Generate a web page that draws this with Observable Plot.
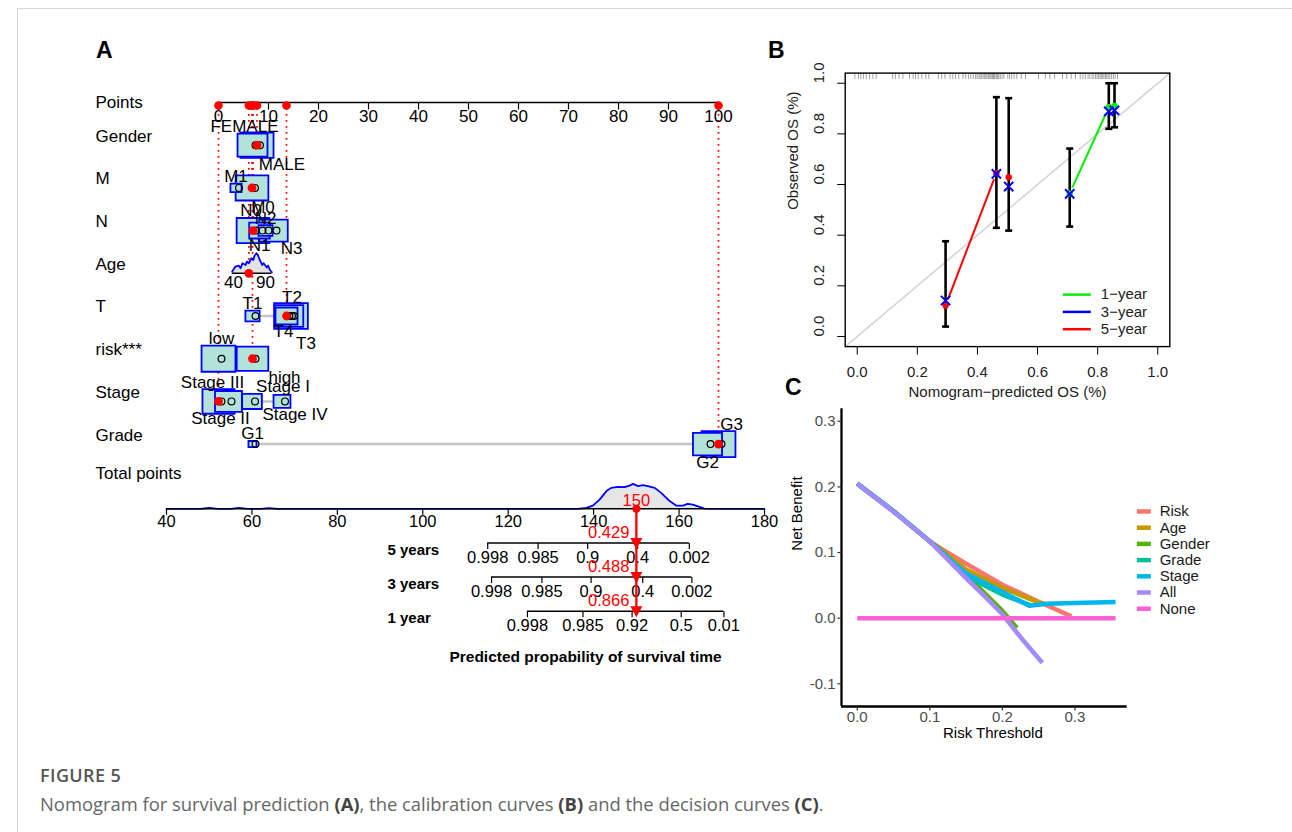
<!DOCTYPE html>
<html>
<head>
<meta charset="utf-8">
<script src="https://cdn.jsdelivr.net/npm/d3@7"></script>
<script src="https://cdn.jsdelivr.net/npm/@observablehq/plot@0.6"></script>
<style>
  body { margin: 0; background: #fff; }
  #fig { position: relative; width: 1292px; height: 832px; overflow: hidden; background: #fff;
         font-family: "Liberation Sans", Arial, Helvetica, sans-serif; }
  .frame-top { position: absolute; left: 17px; top: 8px; width: 1275px; height: 0; border-top: 1px solid #d6d6d6; }
  .frame-left { position: absolute; left: 17px; top: 8px; width: 0; height: 824px; border-left: 1px solid #d6d6d6; }
  .letter { position: absolute; font-weight: bold; font-size: 23px; line-height: 23px; color: #000; }
  .cap1 { position: absolute; left: 40px; top: 763px; font-family: "Open Sans", "Noto Sans", sans-serif;
          font-size: 18px; font-weight: 600; letter-spacing: 0.4px; color: #555; white-space: nowrap; }
  .cap2 { position: absolute; left: 40px; top: 791px; font-family: "Open Sans", "Noto Sans", sans-serif;
          font-size: 18.4px; color: #666; white-space: nowrap; }
  .cap2 b { color: #444; }
</style>
</head>
<body>
<div id="fig">
  <div class="frame-top"></div>
  <div class="frame-left"></div>
  <div class="letter" style="left:96px;top:39px;">A</div>
  <div class="letter" style="left:768px;top:39px;">B</div>
  <div class="letter" style="left:785px;top:376px;">C</div>
  <div class="cap1">FIGURE 5</div>
  <div class="cap2">Nomogram for survival prediction <b>(A)</b>, the calibration curves <b>(B)</b> and the decision curves <b>(C)</b>.</div>
</div>
<script>
// ===================== DATA =====================
// ---- Panel A : nomogram ----
const rowNames   = ["Points","Gender","M","N","Age","T","risk***","Stage","Grade"];
const pointTicks = [0,10,20,30,40,50,60,70,80,90,100];

const catVar    = ["Gender","Gender","M","M","N","N","N","N","T","T","T","T","risk***","risk***","Stage","Stage","Stage","Stage","Grade","Grade","Grade"];
const catLevel  = ["FEMALE","MALE","M1","M0","N0","N1","N2","N3","T1","T4","T2","T3","low","high","Stage III","Stage II","Stage I","Stage IV","G1","G2","G3"];
const catPoints = [6.8,7.7, 3.5,6.7, 6.9,8.2,9.4,11.0, 6.8,13.6,14.1,14.5, 0,6.8, 0,2.0,6.7,12.7, 6.8,97.8,100];
const catCount  = [276,336, 38,330, 330,130,60,250, 62,150,250,350, 354,307, 317,224,120,88, 20,260,354];

const patientVar   = ["Gender","M","N","T","risk***","Stage","Grade"];
const patientLevel = ["MALE","M0","N0","T4","high","Stage III","G3"];
const patientAge   = 64;

const ageTickLabels = [40, 90];
const ageTickPoints = [3.0, 9.4];
const ageGrid    = [38,43,48,51,54,59,61,64,68,71,73,76,78,81,85,87,92,94,97,100];
const ageDensity = [0.085,0.335,0.385,0.25,0.5,0.415,0.585,0.5,0.75,0.665,0.885,1.0,0.915,0.665,0.415,0.5,0.285,0.385,0.165,0.05];

const totalTicks   = [40,60,80,100,120,140,160,180];
const totalGrid    = [40,48,50,52,55,57,59,62,64,66,136.3,138.3,139.8,141.4,143,144.1,145.7,147.2,148.4,149.2,150.4,151.5,152.7,154.3,155.8,157.8,159.3,160.9,162,163.2,164.8,165.9,171,180];
const totalDensity = [0,0,0.04,0,0,0.04,0,0,0.03,0,0,0.04,0.13,0.37,0.71,0.84,0.88,0.87,0.93,1.0,0.91,0.95,0.91,0.84,0.64,0.31,0.13,0.13,0.2,0.17,0.08,0.01,0,0];
const totalPoints  = 150;

const survRows      = ["5 years","3 years","1 year"];
const surv5Labels   = ["0.998","0.985","0.9","0.4","0.002"];
const surv5Points   = [115.2,127.0,138.6,150.3,162.4];
const surv3Labels   = ["0.998","0.985","0.9","0.4","0.002"];
const surv3Points   = [116.1,127.9,139.4,151.5,163.0];
const surv1Labels   = ["0.998","0.985","0.92","0.5","0.01"];
const surv1Points   = [124.5,137.5,149.0,160.5,170.5];
const survPredicted = ["0.429","0.488","0.866"];

// ---- Panel B : calibration ----
const calYear      = ["5-year","5-year","5-year","1-year","1-year","1-year"];
const calPred      = [0.294,0.463,0.504,0.707,0.837,0.856];
const calObs       = [0.122,0.645,0.629,0.565,0.905,0.910];
const calLo        = [0.039,0.429,0.418,0.434,0.820,0.826];
const calHi        = [0.376,0.945,0.941,0.742,1.000,1.000];
const calCorrected = [0.142,0.642,0.592,0.563,0.889,0.893];
const calLegend    = ["1-year","3-year","5-year"];
const calTicks     = [0,0.2,0.4,0.6,0.8,1.0];
const rugPred = [-0.008,0.004,0.012,0.021,0.03,0.041,0.052,0.063,
  0.118,0.127,0.139,0.152,0.174,0.186,0.194,0.203,0.215,0.228,0.238,
  0.27,0.281,0.292,0.309,0.318,0.327,0.338,0.352,0.361,0.37,0.378,0.386,
  0.394,0.399,0.405,0.409,0.414,0.419,0.424,0.428,0.432,0.437,0.441,0.445,0.449,0.452,0.455,0.458,
  0.463,0.467,0.471,0.476,0.482,0.488,0.501,0.507,0.514,0.522,0.531,0.546,0.56,
  0.603,0.626,0.641,0.657,0.683,0.697,0.712,0.726,
  0.742,0.751,0.759,0.768,0.774,0.781,0.787,0.793,0.798,0.803,0.808,0.812,0.817,0.821,0.826,0.83,0.835,0.84,0.846,0.852,0.858,0.866];

// ---- Panel C : decision curves ----
const dcaModels = ["Risk","Age","Gender","Grade","Stage","All","None"];
const thrRisk   = [0,0.05,0.1,0.12,0.15,0.2,0.25,0.295];
const nbRisk    = [0.205,0.163,0.117,0.103,0.083,0.051,0.025,0.003];
const thrAge    = [0,0.05,0.1,0.12,0.15,0.2,0.25,0.262];
const nbAge     = [0.205,0.163,0.117,0.1,0.074,0.046,0.024,0.021];
const thrGender = [0,0.05,0.1,0.15,0.2,0.22];
const nbGender  = [0.205,0.163,0.117,0.066,0.011,-0.015];
const thrGrade  = [0,0.05,0.1,0.12,0.15,0.2,0.24];
const nbGrade   = [0.205,0.163,0.117,0.098,0.064,0.036,0.019];
const thrStage  = [0,0.05,0.1,0.115,0.15,0.2,0.237,0.262,0.3,0.356];
const nbStage   = [0.205,0.163,0.117,0.101,0.068,0.04,0.019,0.022,0.023,0.0245];
const thrAll    = [0,0.05,0.1,0.15,0.175,0.2,0.225,0.255];
const nbAll     = [0.205,0.162,0.117,0.061,0.034,0.006,-0.029,-0.068];
const thrNone   = [0,0.356];
const nbNone    = [0,0];
const dcaXTicks = [0,0.1,0.2,0.3];
const dcaYTicks = [-0.1,0,0.1,0.2,0.3];

// ===================== STYLE HELPERS =====================
const FONT = '"Liberation Sans", Arial, Helvetica, sans-serif';
const fig = document.getElementById("fig");
function place(node, left, top, w, h) {
  const d = document.createElement("div");
  d.style.cssText = `position:absolute;left:${left}px;top:${top}px;width:${w}px;height:${h}px;`;
  d.appendChild(node); fig.appendChild(d);
}
const txt = (data, opts) => Plot.text(data, {fontFamily: FONT, fontSize: 15, fill: "#000", lineAnchor: "middle", ...opts});
const baseStyle = {background: "transparent", fontFamily: FONT, overflow: "visible", color: "#000"};
const boxArea = 2.5, boxAspect = 1.3;
const boxSymbol = {draw(ctx, size) { const h = Math.sqrt(size / boxAspect), w = h * boxAspect; ctx.rect(-w / 2, -h / 2, w, h); }};
const vTick  = len => ({draw(ctx) { ctx.moveTo(0, 0); ctx.lineTo(0, len); }});
const hTickL = len => ({draw(ctx) { ctx.moveTo(0, 0); ctx.lineTo(-len, 0); }});
const hSeg   = len => ({draw(ctx) { ctx.moveTo(-len / 2, 0); ctx.lineTo(len / 2, 0); }});
const downTri = {draw(ctx) { ctx.moveTo(-6, -5); ctx.lineTo(6, -5); ctx.lineTo(0, 6); ctx.closePath(); }};
const labelNudge = {FEMALE:[-8,0], MALE:[25,0], M0:[11,0], N0:[-2,0], N3:[18,0], T4:[-3,0], T2:[3,0], T3:[15,8],
  low:[3,0], high:[32,0], "Stage III":[-6,0], "Stage II":[-8,0], "Stage I":[31,0], "Stage IV":[13,0], G3:[13,0]};

// ===================== PANEL A (top) =====================
const rowOf = n => rowNames.indexOf(n);
const cats = catVar.map((v, i) => ({v, level: catLevel[i], pts: catPoints[i], n: catCount[i], row: rowOf(v)}));
for (const [, arr] of d3.group(cats, d => d.v))
  arr.slice().sort((a, b) => a.pts - b.pts).forEach((d, i) => { d.side = i % 2 ? 1 : -1; });
const boxH = n => Math.sqrt(boxArea * n / boxAspect);
const spans = Array.from(d3.group(cats, d => d.v), ([v, arr]) => ({row: rowOf(v), lo: d3.min(arr, d => d.pts), hi: d3.max(arr, d => d.pts)}));
const ageToPts = d3.scaleLinear().domain(ageTickLabels).range(ageTickPoints);
const ageRow = rowOf("Age");
const ageRidge = 0.47;
const ageData = ageGrid.map((a, i) => ({pts: ageToPts(a), top: ageRow - ageDensity[i] * ageRidge}));
const chosen = patientVar.map((v, i) => ({row: rowOf(v), pts: cats.find(c => c.v === v && c.level === patientLevel[i]).pts}));
chosen.push({row: ageRow, pts: ageToPts(patientAge)});

const catLabelMarks = cats.map(c => {
  const nd = labelNudge[c.level] || [0, 0];
  return txt([c], {x: "pts", y: "row", text: "level", fontSize: 17,
    dx: nd[0], dy: c.side * (boxH(c.n) / 2 + 7) + nd[1]});
});

const plotATop = Plot.plot({
  width: 680, height: 395, marginLeft: 138, marginRight: 42, marginTop: 22, marginBottom: 31.4,
  x: {domain: [0, 100], axis: null},
  y: {domain: [0, rowNames.length - 1], reverse: true, axis: null},
  r: {type: "sqrt", domain: [0, 400], range: [0, Math.sqrt(boxArea * 400 / Math.PI)]},
  style: baseStyle,
  marks: [
    Plot.ruleX(chosen, {x: "pts", y1: 0, y2: "row", stroke: "red", strokeWidth: 1.7, strokeDasharray: "1.8,4.2"}),
    Plot.ruleY(spans, {y: "row", x1: "lo", x2: "hi", stroke: "#c4c4c4", strokeWidth: 2.5}),
    Plot.areaY(ageData, {x: "pts", y1: ageRow, y2: "top", fill: "#e3e3e3"}),
    Plot.line(ageData, {x: "pts", y: "top", stroke: "blue", strokeWidth: 1.8}),
    Plot.ruleY([ageRow], {x1: ageData[0].pts, x2: ageData[ageData.length - 1].pts, stroke: "black", strokeWidth: 1.5}),
    txt(ageTickLabels, {x: d => ageToPts(d), y: ageRow, text: d => String(d), dy: 9, fontSize: 17}),
    Plot.dot(cats, {x: "pts", y: "row", r: "n", symbol: boxSymbol, fill: "#b2e2d8", stroke: "blue", strokeWidth: 1.8}),
    Plot.dot(cats, {x: "pts", y: "row", r: 3.4, stroke: "black", strokeWidth: 1.2, fill: "none", dx: 3}),
    ...catLabelMarks,
    Plot.dot(chosen, {x: "pts", y: "row", r: 4.4, fill: "red"}),
    // points axis
    Plot.ruleY([0], {x1: pointTicks[0], x2: pointTicks[pointTicks.length - 1], stroke: "black", strokeWidth: 1.5}),
    Plot.dot(pointTicks, {x: d => d, y: 0, symbol: vTick(7), stroke: "black", strokeWidth: 1.2, fill: "none"}),
    txt(pointTicks, {x: d => d, y: 0, text: d => String(d), dy: 14, fontSize: 17}),
    Plot.dot(chosen, {x: "pts", y: 0, r: 4.3, fill: "red", dy: 3}),
    // row labels
    txt(rowNames.slice(0, 1), {y: 0, text: d => d, frameAnchor: "left", textAnchor: "start", dx: -123, fontSize: 17}),
    txt(rowNames.slice(1), {y: d => rowOf(d), text: d => d, frameAnchor: "left", textAnchor: "start", dx: -123, dy: -9, fontSize: 17})
  ]
});
place(plotATop, 80, 80, 680, 395);

// ===================== PANEL A (bottom) =====================
const totalRidge = 0.73;
const totalData = totalGrid.map((p, i) => ({pts: p, top: -totalDensity[i] * totalRidge}));
const survLabels = [surv5Labels, surv3Labels, surv1Labels];
const survPoints = [surv5Points, surv3Points, surv1Points];
const survAxes = survRows.map((name, i) => ({name, row: i + 1, lo: d3.min(survPoints[i]), hi: d3.max(survPoints[i])}));
const survTicks = survRows.flatMap((name, i) => survPoints[i].map((p, j) => ({row: i + 1, p, label: survLabels[i][j]})));

const plotABot = Plot.plot({
  width: 700, height: 220, marginLeft: 86, marginRight: 16, marginTop: 53.3, marginBottom: 64.3,
  x: {domain: [totalTicks[0], totalTicks[totalTicks.length - 1]], axis: null},
  y: {domain: [0, survRows.length], reverse: true, axis: null},
  style: baseStyle,
  marks: [
    Plot.areaY(totalData, {x: "pts", y1: 0, y2: "top", fill: "#e6e6e6"}),
    Plot.line(totalData, {x: "pts", y: "top", stroke: "blue", strokeWidth: 1.8}),
    Plot.ruleY([0], {x1: totalTicks[0], x2: totalTicks[totalTicks.length - 1], stroke: "black", strokeWidth: 1.5}),
    Plot.dot(totalTicks, {x: d => d, y: 0, symbol: vTick(6), stroke: "black", strokeWidth: 1.2, fill: "none"}),
    txt(totalTicks, {x: d => d, y: 0, text: d => String(d), dy: 12.5, fontSize: 16.5}),
    Plot.ruleY(survAxes, {y: "row", x1: "lo", x2: "hi", stroke: "black", strokeWidth: 1.5}),
    Plot.dot(survTicks, {x: "p", y: "row", symbol: vTick(6), stroke: "black", strokeWidth: 1.2, fill: "none"}),
    txt(survTicks, {x: "p", y: "row", text: "label", dy: 15, fontSize: 16.5}),
    // red prediction
    Plot.ruleX([totalPoints], {x: d => d, y1: 0, y2: survRows.length, stroke: "red", strokeWidth: 2.3}),
    Plot.dot([totalPoints], {x: d => d, y: 0, r: 4, fill: "red"}),
    txt([totalPoints], {x: d => d, y: 0, text: d => String(d), fill: "red", dy: -8, fontSize: 16.5}),
    Plot.dot(survRows, {x: () => totalPoints, y: (d, i) => i + 1, symbol: downTri, fill: "red", stroke: "none"}),
    txt(survPredicted, {x: () => totalPoints, y: (d, i) => i + 1, text: d => d, fill: "red", textAnchor: "end", dx: -7, dy: -10, fontSize: 16.5}),
    // labels
    txt(["Total points"], {y: 0, text: d => d, frameAnchor: "left", textAnchor: "start", dx: -71, dy: -35, fontSize: 17}),
    txt(survRows, {y: (d, i) => i + 1, text: d => d, frameAnchor: "left", textAnchor: "start", dx: 221, dy: 7, fontWeight: "bold", fontSize: 15}),
    txt(["Predicted propability of survival time"], {frameAnchor: "bottom", text: d => d, dx: 120, dy: 46, fontWeight: "bold", fontSize: 15.5})
  ]
});
place(plotABot, 80, 455, 700, 220);

// ===================== PANEL B =====================
const cal = calPred.map((p, i) => ({year: calYear[i], pred: p, obs: calObs[i], lo: calLo[i], hi: calHi[i], corr: calCorrected[i]}));
const yearColor = {"1-year": "#00ee00", "3-year": "#0000ff", "5-year": "#ff0000"};
const segs = [];
for (const [yr, arr] of d3.group(cal, d => d.year))
  for (let i = 1; i < arr.length; i++) segs.push({year: yr, a: arr[i - 1], b: arr[i]});
const calDom = [-0.04, 1.04];
const minus = s => s.replace("-", "\u2212");

const plotB = Plot.plot({
  width: 420, height: 370, marginLeft: 64.7, marginRight: 30.7, marginTop: 32.6, marginBottom: 63.9,
  x: {domain: calDom, axis: null},
  y: {domain: calDom, axis: null},
  style: baseStyle,
  marks: [
    Plot.line(calDom, {x: d => d, y: d => d, stroke: "#d4d4d4", strokeWidth: 1.5}),
    ...calLegend.map(yr => Plot.link(segs.filter(s => s.year === yr), {x1: d => d.a.pred, y1: d => d.a.obs, x2: d => d.b.pred, y2: d => d.b.obs, stroke: yearColor[yr], strokeWidth: 2})),
    Plot.dot(cal, {x: "pred", y: "obs", r: 6.5, fill: "white", stroke: "none"}),
    Plot.ruleX(cal, {x: "pred", y1: "lo", y2: "hi", stroke: "black", strokeWidth: 2.6}),
    Plot.dot(cal, {x: "pred", y: "lo", symbol: hSeg(7), stroke: "black", strokeWidth: 2.6, fill: "none"}),
    Plot.dot(cal, {x: "pred", y: "hi", symbol: hSeg(7), stroke: "black", strokeWidth: 2.6, fill: "none"}),
    ...calLegend.map(yr => Plot.dot(cal.filter(d => d.year === yr), {x: "pred", y: "obs", r: 3.2, fill: yearColor[yr]})),
    Plot.dot(cal, {x: "pred", y: "corr", symbol: "times", r: 4.3, stroke: "blue", strokeWidth: 2, fill: "none"}),
    Plot.dot(rugPred, {x: d => d, frameAnchor: "top", symbol: vTick(6), stroke: "black", strokeOpacity: 0.45, strokeWidth: 0.8, fill: "none"}),
    Plot.frame({stroke: "black", strokeWidth: 1.4}),
    // axes
    Plot.dot(calTicks, {x: d => d, frameAnchor: "bottom", symbol: vTick(8), stroke: "black", strokeWidth: 1, fill: "none"}),
    txt(calTicks, {x: d => d, frameAnchor: "bottom", text: d => d.toFixed(1), dy: 26, fill: "#222"}),
    Plot.dot(calTicks, {y: d => d, frameAnchor: "left", symbol: hTickL(8), stroke: "black", strokeWidth: 1, fill: "none"}),
    txt(calTicks, {y: d => d, frameAnchor: "left", text: d => d.toFixed(1), rotate: -90, dx: -26, fill: "#222"}),
    txt(["Nomogram\u2212predicted OS (%)"], {frameAnchor: "bottom", text: d => d, dy: 46, fill: "#222"}),
    txt(["Observed OS (%)"], {frameAnchor: "left", text: d => d, rotate: -90, dx: -52, fill: "#222"}),
    // legend
    ...calLegend.map((yr, i) => Plot.dot([yr], {frameAnchor: "bottom-right", symbol: hSeg(28), stroke: yearColor[yr], strokeWidth: 2.5, fill: "none", dx: -93, dy: -52 + 17.3 * i})),
    ...calLegend.map((yr, i) => txt([minus(yr)], {frameAnchor: "bottom-right", text: d => d, textAnchor: "start", dx: -69, dy: -52 + 17.3 * i, fill: "#222"}))
  ]
});
place(plotB, 780, 40, 420, 370);

// ===================== PANEL C =====================
const dcaThr = [thrRisk, thrAge, thrGender, thrGrade, thrStage, thrAll, thrNone];
const dcaNB  = [nbRisk, nbAge, nbGender, nbGrade, nbStage, nbAll, nbNone];
const dcaColors = ["#F8766D","#C49A00","#53B400","#00C094","#00B6EB","#A58AFF","#FB61D7"];
const dca = dcaModels.flatMap((m, k) => dcaThr[k].map((t, i) => ({model: m, t, nb: dcaNB[k][i]})));
const dcaX = [-0.0217, 0.372], dcaY = [-0.1346, 0.319];

const plotC = Plot.plot({
  width: 440, height: 355, marginLeft: 61, marginRight: 93.3, marginTop: 13.3, marginBottom: 44,
  x: {domain: dcaX, axis: null},
  y: {domain: dcaY, axis: null},
  color: {domain: dcaModels, range: dcaColors},
  style: baseStyle,
  marks: [
    Plot.line(dca, {x: "t", y: "nb", z: "model", stroke: "model", strokeWidth: 4.5, strokeLinecap: "butt", strokeLinejoin: "round"}),
    Plot.ruleX([dcaX[0]], {stroke: "black", strokeWidth: 2.3}),
    Plot.ruleY([dcaY[0]], {stroke: "black", strokeWidth: 2.3}),
    Plot.dot(dcaYTicks, {y: d => d, frameAnchor: "left", symbol: hTickL(4), stroke: "#333", strokeWidth: 1.2, fill: "none"}),
    txt(dcaYTicks, {y: d => d, frameAnchor: "left", text: d => d.toFixed(1), textAnchor: "end", dx: -6, fill: "#4d4d4d"}),
    Plot.dot(dcaXTicks, {x: d => d, frameAnchor: "bottom", symbol: vTick(4), stroke: "#333", strokeWidth: 1.2, fill: "none"}),
    txt(dcaXTicks, {x: d => d, frameAnchor: "bottom", text: d => d.toFixed(1), dy: 11, fill: "#4d4d4d"}),
    txt(["Risk Threshold"], {frameAnchor: "bottom", text: d => d, dx: 8.5, dy: 27}),
    txt(["Net Benefit"], {frameAnchor: "left", text: d => d, rotate: -90, dx: -44, dy: -7}),
    ...dcaModels.map((m, i) => Plot.dot([m], {frameAnchor: "top-right", symbol: hSeg(14), stroke: dcaColors[i], strokeWidth: 4.5, fill: "none", dx: 16.6, dy: 102.7 + 16.2 * i})),
    ...dcaModels.map((m, i) => txt([m], {frameAnchor: "top-right", text: d => d, textAnchor: "start", dx: 32.5, dy: 102.7 + 16.2 * i, fill: "#1a1a1a"}))
  ]
});
place(plotC, 780, 395, 440, 355);
</script>
</body>
</html>
